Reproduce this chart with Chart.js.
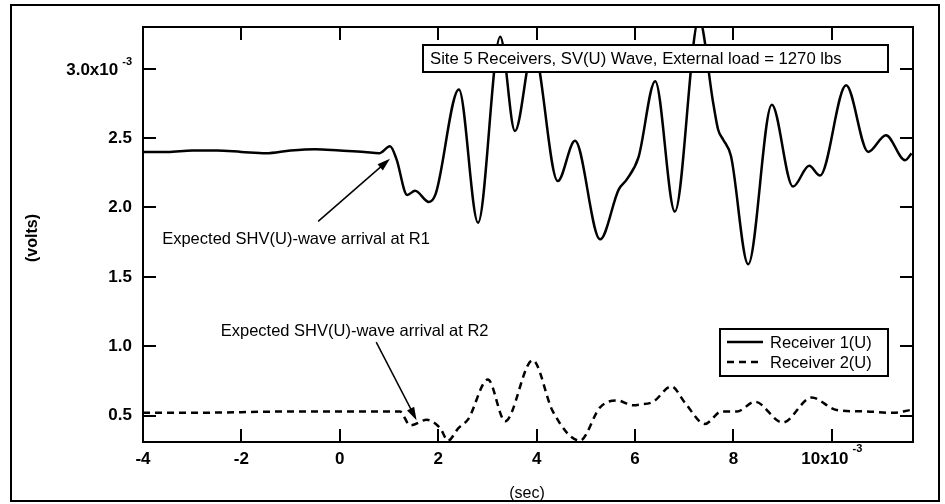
<!DOCTYPE html>
<html>
<head>
<meta charset="utf-8">
<script src="https://cdn.jsdelivr.net/npm/chart.js@4.4.1/dist/chart.umd.min.js"></script>
<style>
  html, body { margin: 0; padding: 0; background: #fff; }
  #wrap { width: 945px; height: 504px; }
</style>
</head>
<body>
<div id="wrap"><canvas id="chart" width="945" height="504"></canvas></div>
<script>
// time in units of 1e-3 s, amplitude in units of 1e-3 V
const r1Time = [-4.0, -3.5, -3.0, -2.5, -2.0, -1.5, -1.0, -0.5, 0.0, 0.5, 0.8, 1.02, 1.15, 1.37, 1.53, 1.81, 1.95,
  2.42, 2.81, 3.26, 3.56, 3.93, 4.43, 4.78, 5.29, 5.67, 5.83, 6.07, 6.41, 6.81, 7.30, 7.59, 7.69, 7.79, 7.95,
  8.30, 8.78, 9.21, 9.54, 9.76, 10.29, 10.74, 11.10, 11.49, 11.62];
const r1Volts = [2.40, 2.40, 2.41, 2.41, 2.40, 2.39, 2.41, 2.42, 2.41, 2.40, 2.39, 2.44, 2.35, 2.09, 2.12, 2.04, 2.10,
  2.85, 1.89, 3.23, 2.55, 3.15, 2.19, 2.48, 1.77, 2.13, 2.20, 2.36, 2.91, 1.97, 3.36, 2.75, 2.56, 2.49, 2.37,
  1.59, 2.74, 2.15, 2.30, 2.23, 2.88, 2.40, 2.52, 2.34, 2.39];

const r2Time = [-4.0, -3.0, -2.0, -1.0, 0.0, 0.5, 0.82, 1.22, 1.43, 1.77, 2.04, 2.2, 2.41, 2.61, 3.01, 3.36, 3.92,
  4.33, 4.88, 5.29, 5.63, 5.96, 6.1, 6.37, 6.74, 7.02, 7.42, 7.76, 8.07, 8.44, 9.0, 9.59, 10.1, 10.71, 11.24, 11.59];
const r2Volts = [0.52, 0.52, 0.525, 0.53, 0.53, 0.53, 0.53, 0.53, 0.43, 0.47, 0.41, 0.32, 0.41, 0.475, 0.76, 0.46, 0.90,
  0.53, 0.32, 0.56, 0.61, 0.575, 0.58, 0.60, 0.71, 0.59, 0.44, 0.53, 0.53, 0.60, 0.45, 0.63, 0.54, 0.53, 0.52, 0.54];

const seriesNames = ["Receiver 1(U)", "Receiver 2(U)"];

const xTicks = [-4, -2, 0, 2, 4, 6, 8, 10];
const xTickLabels = ["-4", "-2", "0", "2", "4", "6", "8", "10x10"];
const yTicks = [0.5, 1.0, 1.5, 2.0, 2.5, 3.0];
const yTickLabels = ["0.5", "1.0", "1.5", "2.0", "2.5", "3.0x10"];
const exponent = "-3";

const titleText = "Site 5 Receivers, SV(U) Wave, External load = 1270 lbs";
const xTitle = "(sec)";
const yTitle = "(volts)";

// annotation anchors in data units: [textX, textY, tailX, tailY, tipX, tipY]
const notes = [
  { text: "Expected SHV(U)-wave arrival at R1", at: [-3.61, 1.77, -0.44, 1.90, 1.02, 2.35] },
  { text: "Expected SHV(U)-wave arrival at R2", at: [-2.42, 1.105, 0.74, 1.03, 1.56, 0.467] },
];

const FONT = "'Liberation Sans', Arial, sans-serif";

function toPoints(xs, ys) {
  return xs.map((x, i) => ({ x: x, y: ys[i] }));
}

function arrow(ctx, x0, y0, x1, y1) {
  const ang = Math.atan2(y1 - y0, x1 - x0);
  const len = 13, half = 4;
  ctx.beginPath();
  ctx.moveTo(x0, y0);
  ctx.lineTo(x1 - Math.cos(ang) * len * 0.8, y1 - Math.sin(ang) * len * 0.8);
  ctx.stroke();
  ctx.beginPath();
  ctx.moveTo(x1, y1);
  ctx.lineTo(x1 - Math.cos(ang) * len - Math.sin(ang) * half, y1 - Math.sin(ang) * len + Math.cos(ang) * half);
  ctx.lineTo(x1 - Math.cos(ang) * len + Math.sin(ang) * half, y1 - Math.sin(ang) * len - Math.cos(ang) * half);
  ctx.closePath();
  ctx.fill();
}

const decorations = {
  id: "decorations",
  beforeDraw(chart) {
    const ctx = chart.ctx;
    ctx.save();
    ctx.fillStyle = "#fff";
    ctx.fillRect(0, 0, chart.width, chart.height);
    ctx.restore();
  },
  afterDatasetsDraw(chart) {
    const ctx = chart.ctx;
    const area = chart.chartArea;
    const xs = chart.scales.x, ys = chart.scales.y;
    ctx.save();
    ctx.strokeStyle = "#000";
    ctx.fillStyle = "#000";

    // plot frame
    ctx.lineWidth = 2;
    ctx.strokeRect(area.left, area.top, area.right - area.left, area.bottom - area.top);

    // inward tick marks on all four sides
    const tl = 13;
    ctx.beginPath();
    xTicks.forEach((v) => {
      const px = Math.round(xs.getPixelForValue(v));
      ctx.moveTo(px, area.bottom); ctx.lineTo(px, area.bottom - tl);
      ctx.moveTo(px, area.top); ctx.lineTo(px, area.top + tl);
    });
    yTicks.forEach((v) => {
      const py = Math.round(ys.getPixelForValue(v));
      ctx.moveTo(area.left, py); ctx.lineTo(area.left + tl, py);
      ctx.moveTo(area.right, py); ctx.lineTo(area.right - tl, py);
    });
    ctx.stroke();

    // tick labels
    const tickFont = "bold 17px " + FONT;
    const supFont = "bold 11px " + FONT;
    ctx.textBaseline = "middle";
    xTicks.forEach((v, i) => {
      const px = xs.getPixelForValue(v);
      const lab = xTickLabels[i];
      ctx.font = tickFont;
      const w = ctx.measureText(lab).width;
      let supW = 0;
      if (lab.includes("x10")) { ctx.font = supFont; supW = ctx.measureText(exponent).width + 4; }
      const x0 = px - (w + supW) / 2;
      ctx.font = tickFont;
      ctx.textAlign = "left";
      ctx.fillText(lab, x0, area.bottom + 17);
      if (supW) { ctx.font = supFont; ctx.fillText(exponent, x0 + w + 4, area.bottom + 7); }
    });
    yTicks.forEach((v, i) => {
      const py = ys.getPixelForValue(v);
      const lab = yTickLabels[i];
      const right = area.left - 11;
      ctx.textAlign = "right";
      if (lab.includes("x10")) {
        ctx.font = supFont;
        const sw = ctx.measureText(exponent).width;
        ctx.fillText(exponent, right, py - 7);
        ctx.font = tickFont;
        ctx.fillText(lab, right - sw - 4, py + 2);
      } else {
        ctx.font = tickFont;
        ctx.fillText(lab, right, py);
      }
    });

    // axis titles
    ctx.font = "16px " + FONT;
    ctx.textAlign = "center";
    ctx.fillText(xTitle, 527, 494);
    ctx.save();
    ctx.translate(33, 238);
    ctx.rotate(-Math.PI / 2);
    ctx.font = "bold 16px " + FONT;
    ctx.fillText(yTitle, 0, 0);
    ctx.restore();

    // annotations with arrows
    ctx.font = "16.5px " + FONT;
    ctx.textAlign = "left";
    ctx.lineWidth = 1.5;
    notes.forEach((n) => {
      const a = n.at;
      ctx.fillText(n.text, xs.getPixelForValue(a[0]), ys.getPixelForValue(a[1]));
      arrow(ctx, xs.getPixelForValue(a[2]), ys.getPixelForValue(a[3]),
        xs.getPixelForValue(a[4]), ys.getPixelForValue(a[5]));
    });

    // title box
    ctx.lineWidth = 2;
    ctx.fillStyle = "#fff";
    ctx.fillRect(423, 45, 465, 27);
    ctx.strokeRect(423, 45, 465, 27);
    ctx.fillStyle = "#000";
    ctx.font = "16.7px " + FONT;
    ctx.fillText(titleText, 430, 59);

    // legend box
    ctx.fillStyle = "#fff";
    ctx.fillRect(720, 329, 168, 47);
    ctx.strokeRect(720, 329, 168, 47);
    ctx.fillStyle = "#000";
    ctx.font = "16.5px " + FONT;
    chart.data.datasets.forEach((ds, i) => {
      const cy = 342 + i * 20;
      ctx.lineWidth = ds.borderWidth;
      ctx.setLineDash(ds.borderDash || []);
      ctx.beginPath();
      ctx.moveTo(727, cy); ctx.lineTo(763, cy);
      ctx.stroke();
      ctx.setLineDash([]);
      ctx.fillText(ds.label, 770, cy + 1);
    });

    // outer frame
    ctx.lineWidth = 2;
    ctx.strokeRect(11, 5, 928, 496);
    ctx.restore();
  }
};

new Chart(document.getElementById("chart"), {
  type: "line",
  data: {
    datasets: [
      {
        label: seriesNames[0],
        data: toPoints(r1Time, r1Volts),
        borderColor: "#000",
        borderWidth: 2.5,
        pointRadius: 0,
        cubicInterpolationMode: "monotone",
        fill: false,
      },
      {
        label: seriesNames[1],
        data: toPoints(r2Time, r2Volts),
        borderColor: "#000",
        borderWidth: 2.5,
        borderDash: [7, 5],
        pointRadius: 0,
        cubicInterpolationMode: "monotone",
        fill: false,
      },
    ],
  },
  options: {
    responsive: false,
    animation: false,
    devicePixelRatio: 1,
    layout: { padding: { left: 0, top: 27, right: 32, bottom: 0 } },
    plugins: { legend: { display: false }, tooltip: { enabled: false } },
    scales: {
      x: {
        type: "linear",
        min: -4,
        max: 11.65,
        grid: { display: false },
        border: { display: false },
        ticks: { display: false },
        afterBuildTicks: (scale) => { scale.ticks = xTicks.map((v) => ({ value: v })); },
        afterFit: (scale) => { scale.height = 62; },
      },
      y: {
        type: "linear",
        min: 0.31,
        max: 3.30,
        grid: { display: false },
        border: { display: false },
        ticks: { display: false },
        afterBuildTicks: (scale) => { scale.ticks = yTicks.map((v) => ({ value: v })); },
        afterFit: (scale) => { scale.width = 143; },
      },
    },
  },
  plugins: [decorations],
});
</script>
</body>
</html>
